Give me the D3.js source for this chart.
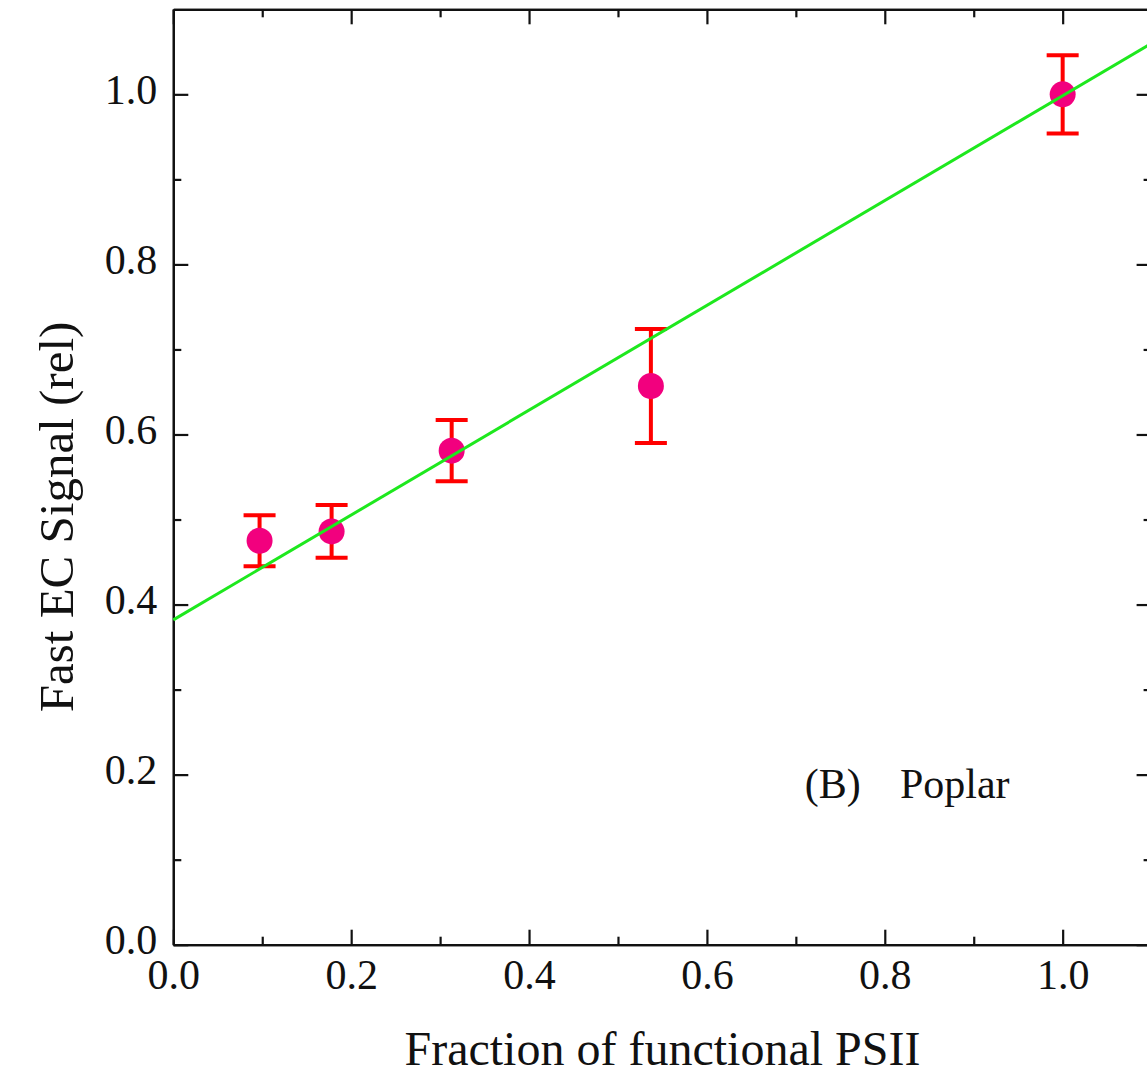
<!DOCTYPE html>
<html>
<head>
<meta charset="utf-8">
<script src="https://cdn.jsdelivr.net/npm/d3@7"></script>
<style>
  html, body { margin: 0; padding: 0; background: #fff; overflow: hidden; }
  svg { display: block; font-family: "Liberation Serif", "Times New Roman", serif; }
</style>
</head>
<body>
<svg id="chart" width="1147" height="1077"></svg>
<script>
// measured points
var fractionPSII = [0.097, 0.178, 0.313, 0.537, 1.0];
var ecSignal = [0.475, 0.486, 0.581, 0.657, 1.0];
var ecError = [0.030, 0.031, 0.036, 0.067, 0.046];

// linear fit, endpoints
var fitX = [0, 1.1];
var fitY = [0.382, 1.060];

var majorTicks = [0, 0.2, 0.4, 0.6, 0.8, 1.0];
var minorTicks = [0.1, 0.3, 0.5, 0.7, 0.9];

var margin = {left: 173.3, top: 9.3};
var plotW = 978.3;   // 0 -> 1.1
var plotH = 935.4;   // 0 -> 1.1

var svg = d3.select('#chart');
var g = svg.append('g').attr('transform', 'translate(' + [margin.left, margin.top] + ')');

var x = d3.scaleLinear().domain([0, 1.1]).range([0, plotW]);
var y = d3.scaleLinear().domain([0, 1.1]).range([plotH, 0]);

var fmt = d3.format('.1f');

function styleAxis(sel) {
  sel.selectAll('path').attr('stroke', '#111').attr('stroke-width', 2.2);
  sel.selectAll('line').attr('stroke', '#111').attr('stroke-width', 2.2);
  sel.selectAll('text').attr('font-family', '"Liberation Serif", "Times New Roman", serif')
    .attr('font-size', 42).attr('fill', '#111');
}

// bottom + left with labels, ticks pointing inward
g.append('g').attr('transform', 'translate(0,' + plotH + ')')
  .call(d3.axisBottom(x).tickValues(majorTicks).tickFormat(fmt).tickSizeInner(-15).tickSizeOuter(0).tickPadding(14))
  .call(styleAxis);
g.append('g')
  .call(d3.axisLeft(y).tickValues(majorTicks).tickFormat(fmt).tickSizeInner(-15).tickSizeOuter(0).tickPadding(16))
  .call(styleAxis)
  .selectAll('text').attr('dy', '0.22em');

// top + right, no labels
g.append('g')
  .call(d3.axisTop(x).tickValues(majorTicks).tickFormat('').tickSizeInner(-15).tickSizeOuter(0))
  .call(styleAxis);
g.append('g').attr('transform', 'translate(' + plotW + ',0)')
  .call(d3.axisRight(y).tickValues(majorTicks).tickFormat('').tickSizeInner(-15).tickSizeOuter(0))
  .call(styleAxis);

// minor ticks on all four sides
g.append('g').attr('transform', 'translate(0,' + plotH + ')')
  .call(d3.axisBottom(x).tickValues(minorTicks).tickFormat('').tickSizeInner(-8).tickSizeOuter(0))
  .call(styleAxis);
g.append('g')
  .call(d3.axisTop(x).tickValues(minorTicks).tickFormat('').tickSizeInner(-8).tickSizeOuter(0))
  .call(styleAxis);
g.append('g')
  .call(d3.axisLeft(y).tickValues(minorTicks).tickFormat('').tickSizeInner(-8).tickSizeOuter(0))
  .call(styleAxis);
g.append('g').attr('transform', 'translate(' + plotW + ',0)')
  .call(d3.axisRight(y).tickValues(minorTicks).tickFormat('').tickSizeInner(-8).tickSizeOuter(0))
  .call(styleAxis);

var line = d3.line().x(d => x(d[0])).y(d => y(d[1]));
var pts = fractionPSII.map((d, i) => ({x: d, y: ecSignal[i], e: ecError[i]}));

// error bars
var capHalf = 16;
var bars = g.selectAll('.err').data(pts).enter().append('g').classed('err', true)
  .attr('stroke', '#ff0000').attr('stroke-width', 4);
bars.append('line')
  .attr('x1', d => x(d.x)).attr('x2', d => x(d.x))
  .attr('y1', d => y(d.y + d.e)).attr('y2', d => y(d.y - d.e));
bars.append('line')
  .attr('x1', d => x(d.x) - capHalf).attr('x2', d => x(d.x) + capHalf)
  .attr('y1', d => y(d.y + d.e)).attr('y2', d => y(d.y + d.e));
bars.append('line')
  .attr('x1', d => x(d.x) - capHalf).attr('x2', d => x(d.x) + capHalf)
  .attr('y1', d => y(d.y - d.e)).attr('y2', d => y(d.y - d.e));

// points
g.selectAll('.pt').data(pts).enter().append('circle')
  .classed('pt', true)
  .attr('cx', d => x(d.x))
  .attr('cy', d => y(d.y))
  .attr('r', 13)
  .attr('fill', '#f2007e');

// fit line drawn on top of the markers
g.append('path')
  .datum(d3.zip(fitX, fitY))
  .attr('d', line)
  .attr('fill', 'none')
  .attr('stroke', '#1ee81e')
  .attr('stroke-width', 3);

// panel label
g.append('text')
  .attr('x', x(0.71))
  .attr('y', y(0.172))
  .attr('font-size', 42)
  .attr('fill', '#111')
  .text('(B)');
g.append('text')
  .attr('x', x(0.817))
  .attr('y', y(0.172))
  .attr('font-size', 42)
  .attr('fill', '#111')
  .text('Poplar');

// axis titles
svg.append('text')
  .attr('x', margin.left + x(0.55))
  .attr('y', 1065)
  .attr('text-anchor', 'middle')
  .attr('font-size', 48)
  .attr('fill', '#111')
  .text('Fraction of functional PSII');

svg.append('text')
  .attr('transform', 'translate(73,' + (margin.top + y(0.503)) + ') rotate(-90)')
  .attr('text-anchor', 'middle')
  .attr('font-size', 49)
  .attr('fill', '#111')
  .text('Fast EC Signal (rel)');
</script>
</body>
</html>
